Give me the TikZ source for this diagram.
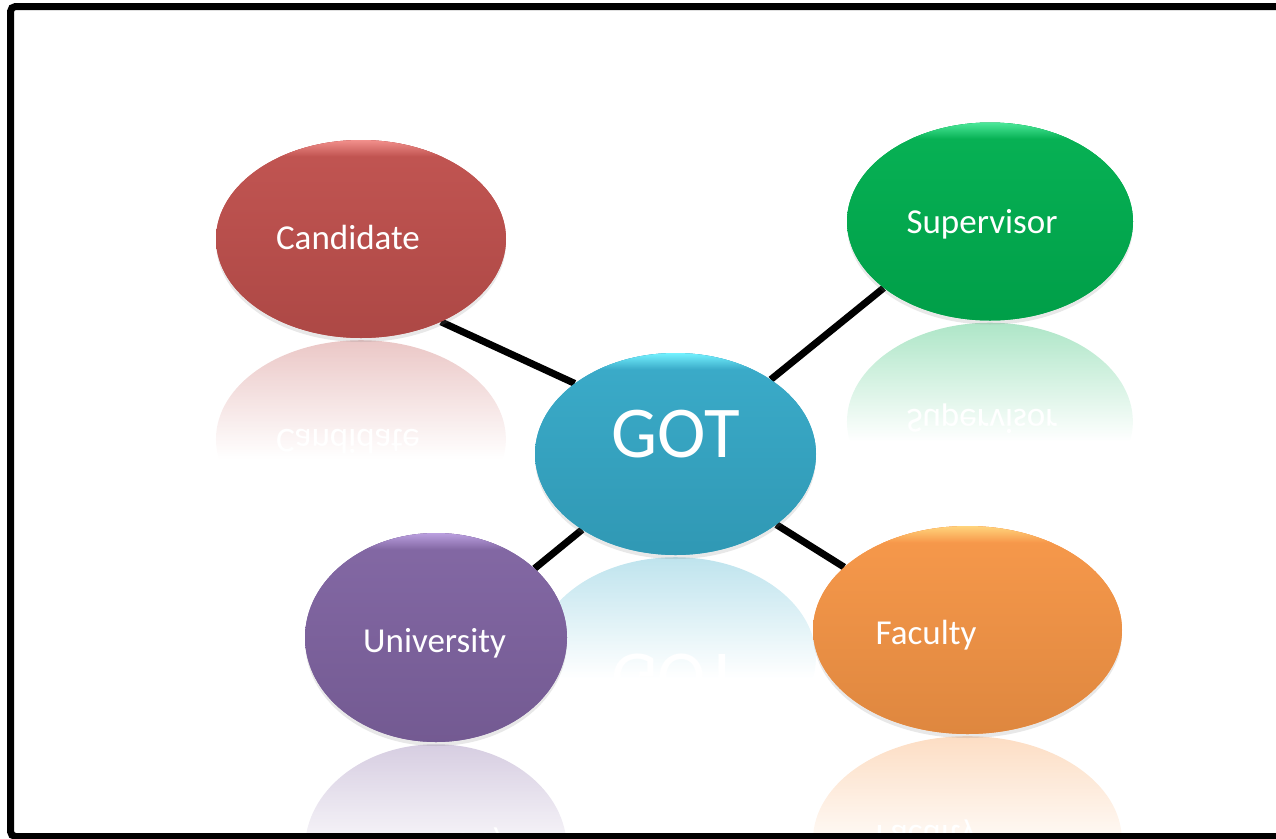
\documentclass[tikz,border=0pt]{standalone}
\usepackage{fontspec}
\setmainfont{Carlito}
\usetikzlibrary{shapes.geometric,positioning,calc,fadings,shadows,backgrounds}
\definecolor{candred}{HTML}{C0504D}
\definecolor{candlight}{HTML}{F2908C}
\definecolor{supgreen}{HTML}{00B050}
\definecolor{suplight}{HTML}{4CE89A}
\definecolor{gotblue}{HTML}{35A9C8}
\definecolor{gotlight}{HTML}{74F2FF}
\definecolor{unipurple}{HTML}{8064A2}
\definecolor{unilight}{HTML}{BBA0E0}
\definecolor{facorange}{HTML}{F79646}
\definecolor{faclight}{HTML}{FFD47C}
\pgfdeclareverticalshading{mirrorshade}{100bp}{color(0bp)=(transparent!100); color(45bp)=(transparent!100); color(75bp)=(transparent!68); color(100bp)=(transparent!52)}
\pgfdeclarefading{mirrorfade}{\pgfuseshading{mirrorshade}}
\tikzset{
    bubble/.style n args={2}{
        ellipse,
        inner sep=0pt,
        fill=#1,
        drop shadow={shadow xshift=0pt, shadow yshift=-4pt, opacity=.18},
        path picture={
            \shade[top color=#1!97!white, bottom color=#1!90!black]
                (path picture bounding box.north west) rectangle (path picture bounding box.south east);
            \shade[top color=#2, bottom color=#1!97!white]
                (path picture bounding box.north west) rectangle ([yshift=-16pt]path picture bounding box.north east);
        },
    },
    mirror/.style={
        ellipse,
        inner sep=0pt,
        fill=#1,
        path fading=mirrorfade,
    },
    bubtext/.style={
        text=white,
        font=\fontsize{35}{42}\selectfont,
    },
    bigtext/.style={
        text=white,
        font=\fontsize{73}{80}\selectfont,
    },
    link/.style={
        draw=black,
        line width=7pt,
    },
    frame/.style={
        draw=black,
        line width=7pt,
        rounded corners=5pt,
    },
}
\begin{document}
\begin{tikzpicture}[x=1pt,y=-1pt]
    \useasboundingbox (0,0) rectangle (1276,838);
    \node [bubble={candred}{candlight}, minimum width=290pt, minimum height=198pt,
           label={[bubtext,xshift=-13pt,yshift=2pt]center:Candidate}] (cand) at (361,239) {};
    \node [bubble={supgreen}{suplight}, minimum width=286pt, minimum height=198pt,
           label={[bubtext,xshift=-8pt,yshift=-2.5pt]center:Supervisor}] (sup) at (990,221.5) {};
    \node [bubble={gotblue}{gotlight}, minimum width=281pt, minimum height=202pt,
           label={[bigtext,yshift=19.5pt]center:GOT}] (got) at (675.5,454) {};
    \node [bubble={unipurple}{unilight}, minimum width=262pt, minimum height=209pt,
           label={[bubtext,xshift=-1.5pt,yshift=-6pt]center:University}] (uni) at (436,637.5) {};
    \node [bubble={facorange}{faclight}, minimum width=309pt, minimum height=208pt,
           label={[bubtext,xshift=-41.5pt,yshift=-5.5pt]center:Faculty}] (fac) at (967.5,630) {};
    \begin{pgfonlayer}{background}
        % reflections under the bubbles
        \foreach \n/\c/\w/\h/\t/\fs/\dx/\dy in {
            cand/candred/290/198/Candidate/35/-13/2,
            sup/supgreen/286/198/Supervisor/35/-8/-2.5,
            got/gotblue/281/202/GOT/73/0/19.5,
            uni/unipurple/262/209/University/35/-1.5/-6,
            fac/facorange/309/208/Faculty/35/-41.5/-5.5} {
            \node [mirror=\c, minimum width=\w pt, minimum height=\h pt] (\n-m) at ($(\n.south)+(0,\h/2+2)$) {};
            \node [text=white, font=\fontsize{\fs}{\fs}\selectfont, yscale=-1] (\n-mt) at ($(\n-m.center)+(\dx,\dy)$) {\t};
        }
        \draw[link] (cand.-46) -- (got.145);
        \draw[link] (sup.-148) -- (got.38);
        \draw[link] (got.-141) -- (uni.35);
        \draw[link] (got.-35) -- (fac.153);
    \end{pgfonlayer}
    \draw[frame] (10.5,6.5) rectangle (1282,836.5);
\end{tikzpicture}
\end{document}
